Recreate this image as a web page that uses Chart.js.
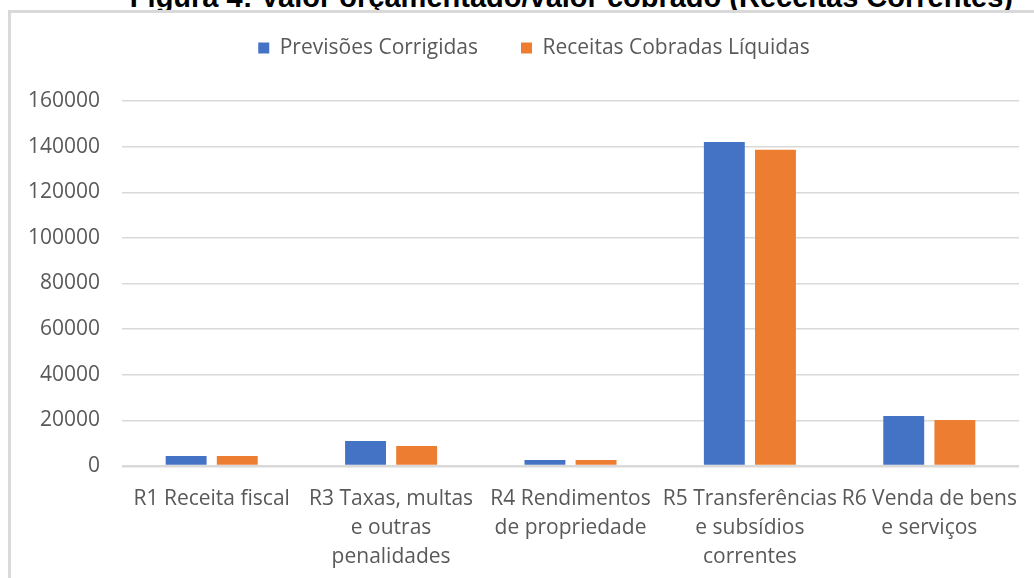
<!DOCTYPE html>
<html>
<head>
<meta charset="utf-8">
<script src="https://cdn.jsdelivr.net/npm/chart.js@4"></script>
<style>
  html, body { margin: 0; padding: 0; background: #fff; overflow: hidden; }
  body { width: 1034px; height: 578px; position: relative; }
  #caption {
    position: absolute; right: 21px; top: -17px;
    font: bold 29px "Liberation Sans", Arial, sans-serif;
    line-height: 29px; white-space: nowrap; color: #000;
  }
  #frame {
    position: absolute; left: 8px; top: 10px; width: 1026px; height: 568px;
    border-left: 3px solid #d9d9d9; border-top: 3px solid #d9d9d9;
  }
  #box { position: absolute; left: 0; top: 0; width: 1023px; height: 565px; }
</style>
</head>
<body>
<div id="caption">Figura 4: Valor orçamentado/valor cobrado (Receitas Correntes)</div>
<div id="frame"><div id="box"><canvas id="bar-chart"></canvas></div></div>
<script>
// Receitas correntes: valor orçamentado vs valor cobrado

const categories = [
    ["R1 Receita fiscal"],
    ["R3 Taxas, multas", "e outras", "penalidades"],
    ["R4 Rendimentos", "de propriedade"],
    ["R5 Transferências", "e subsídios", "correntes"],
    ["R6 Venda de bens", "e serviços"]
];
const previsoes = [4400, 11000, 2600, 142000, 21900];
const cobradas = [4400, 8800, 2600, 138600, 20200];
const yTicks = [0, 20000, 40000, 60000, 80000, 100000, 120000, 140000, 160000];

const textColor = '#595959';
const font = { family: "'Open Sans', sans-serif", size: 21 };

// taller legend box so the plot starts lower, and nudge it right a bit
const legendTweak = {
    id: 'legendTweak',
    afterInit(chart) {
        const legend = chart.legend;
        const fit = legend.fit;
        const draw = legend.draw;
        legend.fit = function () {
            fit.call(this);
            this.height += 32.5;
        };
        legend.draw = function () {
            this.ctx.save();
            this.ctx.translate(19, 0);
            draw.call(this);
            this.ctx.restore();
        };
    }
};

const barChart = document.getElementById('bar-chart').getContext('2d');
const chart = new Chart(barChart, {
    type: 'bar',
    data: {
        labels: categories,
        datasets: [{
            label: 'Previsões Corrigidas',
            backgroundColor: '#4472C4',
            data: previsoes
        }, {
            label: 'Receitas Cobradas Líquidas',
            backgroundColor: '#ED7D31',
            data: cobradas
        }]
    },
    options: {
        responsive: true,
        maintainAspectRatio: false,
        animation: false,
        categoryPercentage: 0.57,
        barPercentage: 0.8,
        layout: { padding: { top: -18.5, right: 15, bottom: 0, left: 0 } },
        plugins: {
            tooltip: { enabled: false },
            legend: {
                position: 'top',
                labels: {
                    color: textColor,
                    font: font,
                    boxWidth: 11,
                    boxHeight: 11,
                    padding: 43
                }
            }
        },
        scales: {
            x: {
                grid: { display: false },
                border: { display: false },
                ticks: {
                    color: textColor,
                    font: { ...font, lineHeight: 1.4 },
                    padding: 10,
                    maxRotation: 0,
                    autoSkip: false
                },
                afterFit(scale) { scale.height = 112; }
            },
            y: {
                min: 0,
                max: 160000,
                border: { display: false },
                grid: {
                    color: '#d9d9d9',
                    lineWidth: ctx => ctx.tick && ctx.tick.value === 0 ? 2.5 : 1.5,
                    drawTicks: false
                },
                afterBuildTicks(scale) {
                    scale.ticks = yTicks.map(v => ({ value: v }));
                },
                ticks: {
                    color: textColor,
                    font: font,
                    padding: 22,
                    callback: v => String(v)
                },
                afterFit(scale) { scale.width = 111; }
            }
        }
    },
    plugins: [legendTweak]
});
</script>
</body>
</html>
